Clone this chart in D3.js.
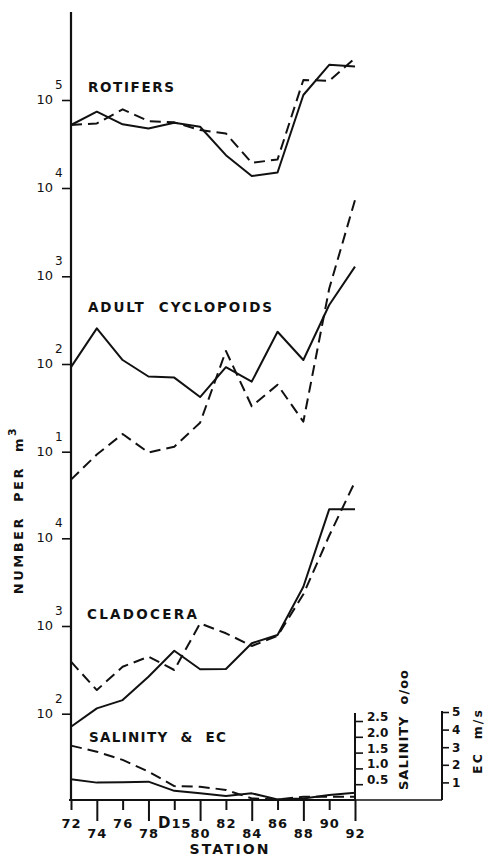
<!DOCTYPE html>
<html>
<head>
<meta charset="utf-8">
<script src="https://cdn.jsdelivr.net/npm/d3@7"></script>
<style>
  html, body { margin: 0; padding: 0; background: #fff; }
  svg { display: block; font-family: "DejaVu Sans", sans-serif; }
  text { white-space: pre; }
</style>
</head>
<body>
<div id="viz"></div>
<script>
// Stations along the transect
const stations = ["72", "74", "76", "78", "D15", "80", "82", "84", "86", "88", "90", "92"];

// Numbers per m^3 (solid and dashed series)
const rotifersSolid = [52000, 73600, 52900, 47500, 55100, 49700, 23600, 13700, 15000, 114000, 251000, 240000];
const rotifersDashed = [52000, 54200, 78300, 57500, 55700, 45500, 41700, 19300, 21100, 169000, 165000, 299000];
const cyclopoidsSolid = [92, 255, 111, 72, 70, 42, 92, 63, 233, 111, 471, 1290];
const cyclopoidsDashed = [4.8, 9.3, 15.9, 9.8, 11.4, 21.4, 141, 33, 58, 22, 720, 7400];
const cladoceraSolid = [71, 115, 143, 264, 522, 321, 323, 636, 789, 2800, 21400, 21400];
const cladoceraDashed = [392, 186, 343, 447, 315, 1070, 826, 592, 770, 2300, 10700, 44200];

// Salinity (o/oo)
const salinitySolid = [0.66, 0.55, 0.56, 0.58, 0.29, 0.21, 0.13, 0.21, 0.02, 0.05, 0.16, 0.23];
const salinityDashed = [1.72, 1.53, 1.27, 0.90, 0.44, 0.42, 0.32, 0.05, 0.02, 0.10, 0.10, 0.10];

// Axis ticks
const rotTicks = [1e5, 1e4];
const cycTicks = [1e3, 1e2, 1e1];
const claTicks = [1e4, 1e3, 1e2];
const salTicks = [0.5, 1.0, 1.5, 2.0, 2.5];
const ecTicks = [1, 2, 3, 4, 5];

const width = 485, height = 856;
const x0 = 71, x1 = 355, base = 800, axisTop = 12;
const ink = "#111";

const svg = d3.select("#viz").append("svg")
  .attr("width", width)
  .attr("height", height);

// --- scales ---
const x = d3.scalePoint().domain(stations).range([x0, x1]);
const yRot = d3.scaleLog().domain([1e4, 1e5]).range([188, 100]);
const yCyc = d3.scaleLog().domain([10, 100]).range([451.7, 364]);
const yCla = d3.scaleLog().domain([1e3, 1e4]).range([626, 538.3]);
const ySal = d3.scaleLinear().domain([0, 2.5]).range([base, 721]);
const yEC = d3.scaleLinear().domain([0, 5]).range([base, 712]);

// --- left axis ---
svg.append("line")
  .attr("x1", x0).attr("x2", x0)
  .attr("y1", axisTop).attr("y2", base)
  .attr("stroke", ink).attr("stroke-width", 2.2);

function logTicks(scale, values) {
  const g = svg.append("g")
    .attr("transform", `translate(${x0},0)`)
    .call(d3.axisLeft(scale).tickValues(values).tickSize(9).tickFormat(""));
  g.select(".domain").remove();
  g.selectAll(".tick line").attr("stroke", ink).attr("stroke-width", 1.6);

  values.forEach(v => {
    const y = scale(v);
    svg.append("text")
      .attr("x", 53).attr("y", y + 4)
      .attr("text-anchor", "end")
      .attr("font-size", 13)
      .attr("fill", ink)
      .text("10");
    svg.append("text")
      .attr("x", 55).attr("y", y - 11)
      .attr("font-size", 12)
      .attr("fill", ink)
      .text(Math.round(Math.log10(v)));
  });
}
logTicks(yRot, rotTicks);
logTicks(yCyc, cycTicks);
logTicks(yCla, claTicks);

// --- station axis ---
svg.append("line")
  .attr("x1", x0 - 2).attr("x2", x1)
  .attr("y1", base).attr("y2", base)
  .attr("stroke", ink).attr("stroke-width", 2.2);

const gx = svg.append("g")
  .attr("transform", `translate(0,${base})`)
  .call(d3.axisBottom(x).tickSize(21).tickSizeOuter(0));
gx.select(".domain").remove();
gx.selectAll(".tick line")
  .attr("stroke", ink).attr("stroke-width", 2)
  .attr("y2", (d, i) => i % 2 ? 21 : 10);
gx.selectAll(".tick text")
  .attr("fill", ink)
  .attr("font-size", 13)
  .attr("font-weight", "bold")
  .attr("font-family", "DejaVu Sans, sans-serif")
  .attr("letter-spacing", 1)
  .attr("dy", 0)
  .attr("y", (d, i) => i % 2 ? 37.5 : 28)
  .each(function(d) {
    if (d === "D15") {
      const t = d3.select(this).text(null);
      t.append("tspan").attr("font-size", 15).text("D");
      t.append("tspan").text("15");
    }
  });

svg.append("text")
  .attr("x", 229).attr("y", 854)
  .attr("text-anchor", "middle")
  .attr("font-size", 14).attr("font-weight", "bold")
  .attr("textLength", 79).attr("lengthAdjust", "spacing")
  .attr("fill", ink)
  .text("STATION");

// --- salinity and EC axes ---
svg.append("line")
  .attr("x1", x1).attr("x2", x1)
  .attr("y1", 713).attr("y2", base)
  .attr("stroke", ink).attr("stroke-width", 2);
const gs = svg.append("g")
  .attr("transform", `translate(${x1},0)`)
  .call(d3.axisRight(ySal).tickValues(salTicks).tickSize(8).tickFormat(d3.format(".1f")));
gs.select(".domain").remove();
gs.selectAll(".tick line").attr("stroke", ink).attr("stroke-width", 1.6);
gs.selectAll(".tick text")
  .attr("x", 12).attr("dy", "-0.05em")
  .attr("fill", ink).attr("font-size", 12).attr("font-weight", "bold")
  .attr("font-family", "DejaVu Sans, sans-serif");

svg.append("line")
  .attr("x1", x1).attr("x2", 442)
  .attr("y1", base).attr("y2", base)
  .attr("stroke", ink).attr("stroke-width", 1.5);
svg.append("line")
  .attr("x1", 442).attr("x2", 442)
  .attr("y1", 711).attr("y2", base)
  .attr("stroke", ink).attr("stroke-width", 2);
const ge = svg.append("g")
  .attr("transform", "translate(442,0)")
  .call(d3.axisRight(yEC).tickValues(ecTicks).tickSize(7).tickFormat(d3.format("d")));
ge.select(".domain").remove();
ge.selectAll(".tick line").attr("stroke", ink).attr("stroke-width", 1.6);
ge.selectAll(".tick text")
  .attr("x", 10)
  .attr("fill", ink).attr("font-size", 12).attr("font-weight", "bold")
  .attr("font-family", "DejaVu Sans, sans-serif");

svg.append("text")
  .attr("transform", "translate(408,730) rotate(-90)")
  .attr("text-anchor", "middle")
  .attr("font-size", 13).attr("font-weight", "bold")
  .attr("textLength", 120).attr("lengthAdjust", "spacing")
  .attr("fill", ink)
  .text("SALINITY  o/oo");
svg.append("text")
  .attr("transform", "translate(482,742) rotate(-90)")
  .attr("text-anchor", "middle")
  .attr("font-size", 12.5).attr("font-weight", "bold")
  .attr("textLength", 64).attr("lengthAdjust", "spacing")
  .attr("fill", ink)
  .text("EC  m/s");

// --- y label ---
const yl = svg.append("text")
  .attr("transform", "translate(23,510) rotate(-90)")
  .attr("text-anchor", "middle")
  .attr("font-size", 13).attr("font-weight", "bold")
  .attr("letter-spacing", 2.5)
  .attr("fill", ink);
yl.append("tspan").text("NUMBER  PER  m");
yl.append("tspan").attr("dy", -7).attr("font-size", 11).text("3");

// --- panel titles ---
const titles = [
  { text: "ROTIFERS", x: 88, y: 92, len: 86 },
  { text: "ADULT  CYCLOPOIDS", x: 88, y: 312, len: 184 },
  { text: "CLADOCERA", x: 87, y: 619, len: 110 },
  { text: "SALINITY  &  EC", x: 89, y: 741.5, len: 137 }
];
titles.forEach(t => {
  svg.append("text")
    .attr("x", t.x).attr("y", t.y)
    .attr("font-size", 13.5).attr("font-weight", "bold")
    .attr("textLength", t.len).attr("lengthAdjust", "spacing")
    .attr("fill", ink)
    .text(t.text);
});

// --- data lines ---
function drawSeries(values, y, dashed) {
  svg.append("path")
    .datum(values)
    .attr("fill", "none")
    .attr("stroke", ink)
    .attr("stroke-width", 2)
    .attr("stroke-linejoin", "round")
    .attr("stroke-dasharray", dashed ? "11,6" : null)
    .attr("d", d3.line()
      .x((d, i) => x(stations[i]))
      .y(d => y(d)));
}
drawSeries(rotifersSolid, yRot, false);
drawSeries(rotifersDashed, yRot, true);
drawSeries(cyclopoidsSolid, yCyc, false);
drawSeries(cyclopoidsDashed, yCyc, true);
drawSeries(cladoceraSolid, yCla, false);
drawSeries(cladoceraDashed, yCla, true);
drawSeries(salinitySolid, ySal, false);
drawSeries(salinityDashed, ySal, true);
</script>
</body>
</html>
